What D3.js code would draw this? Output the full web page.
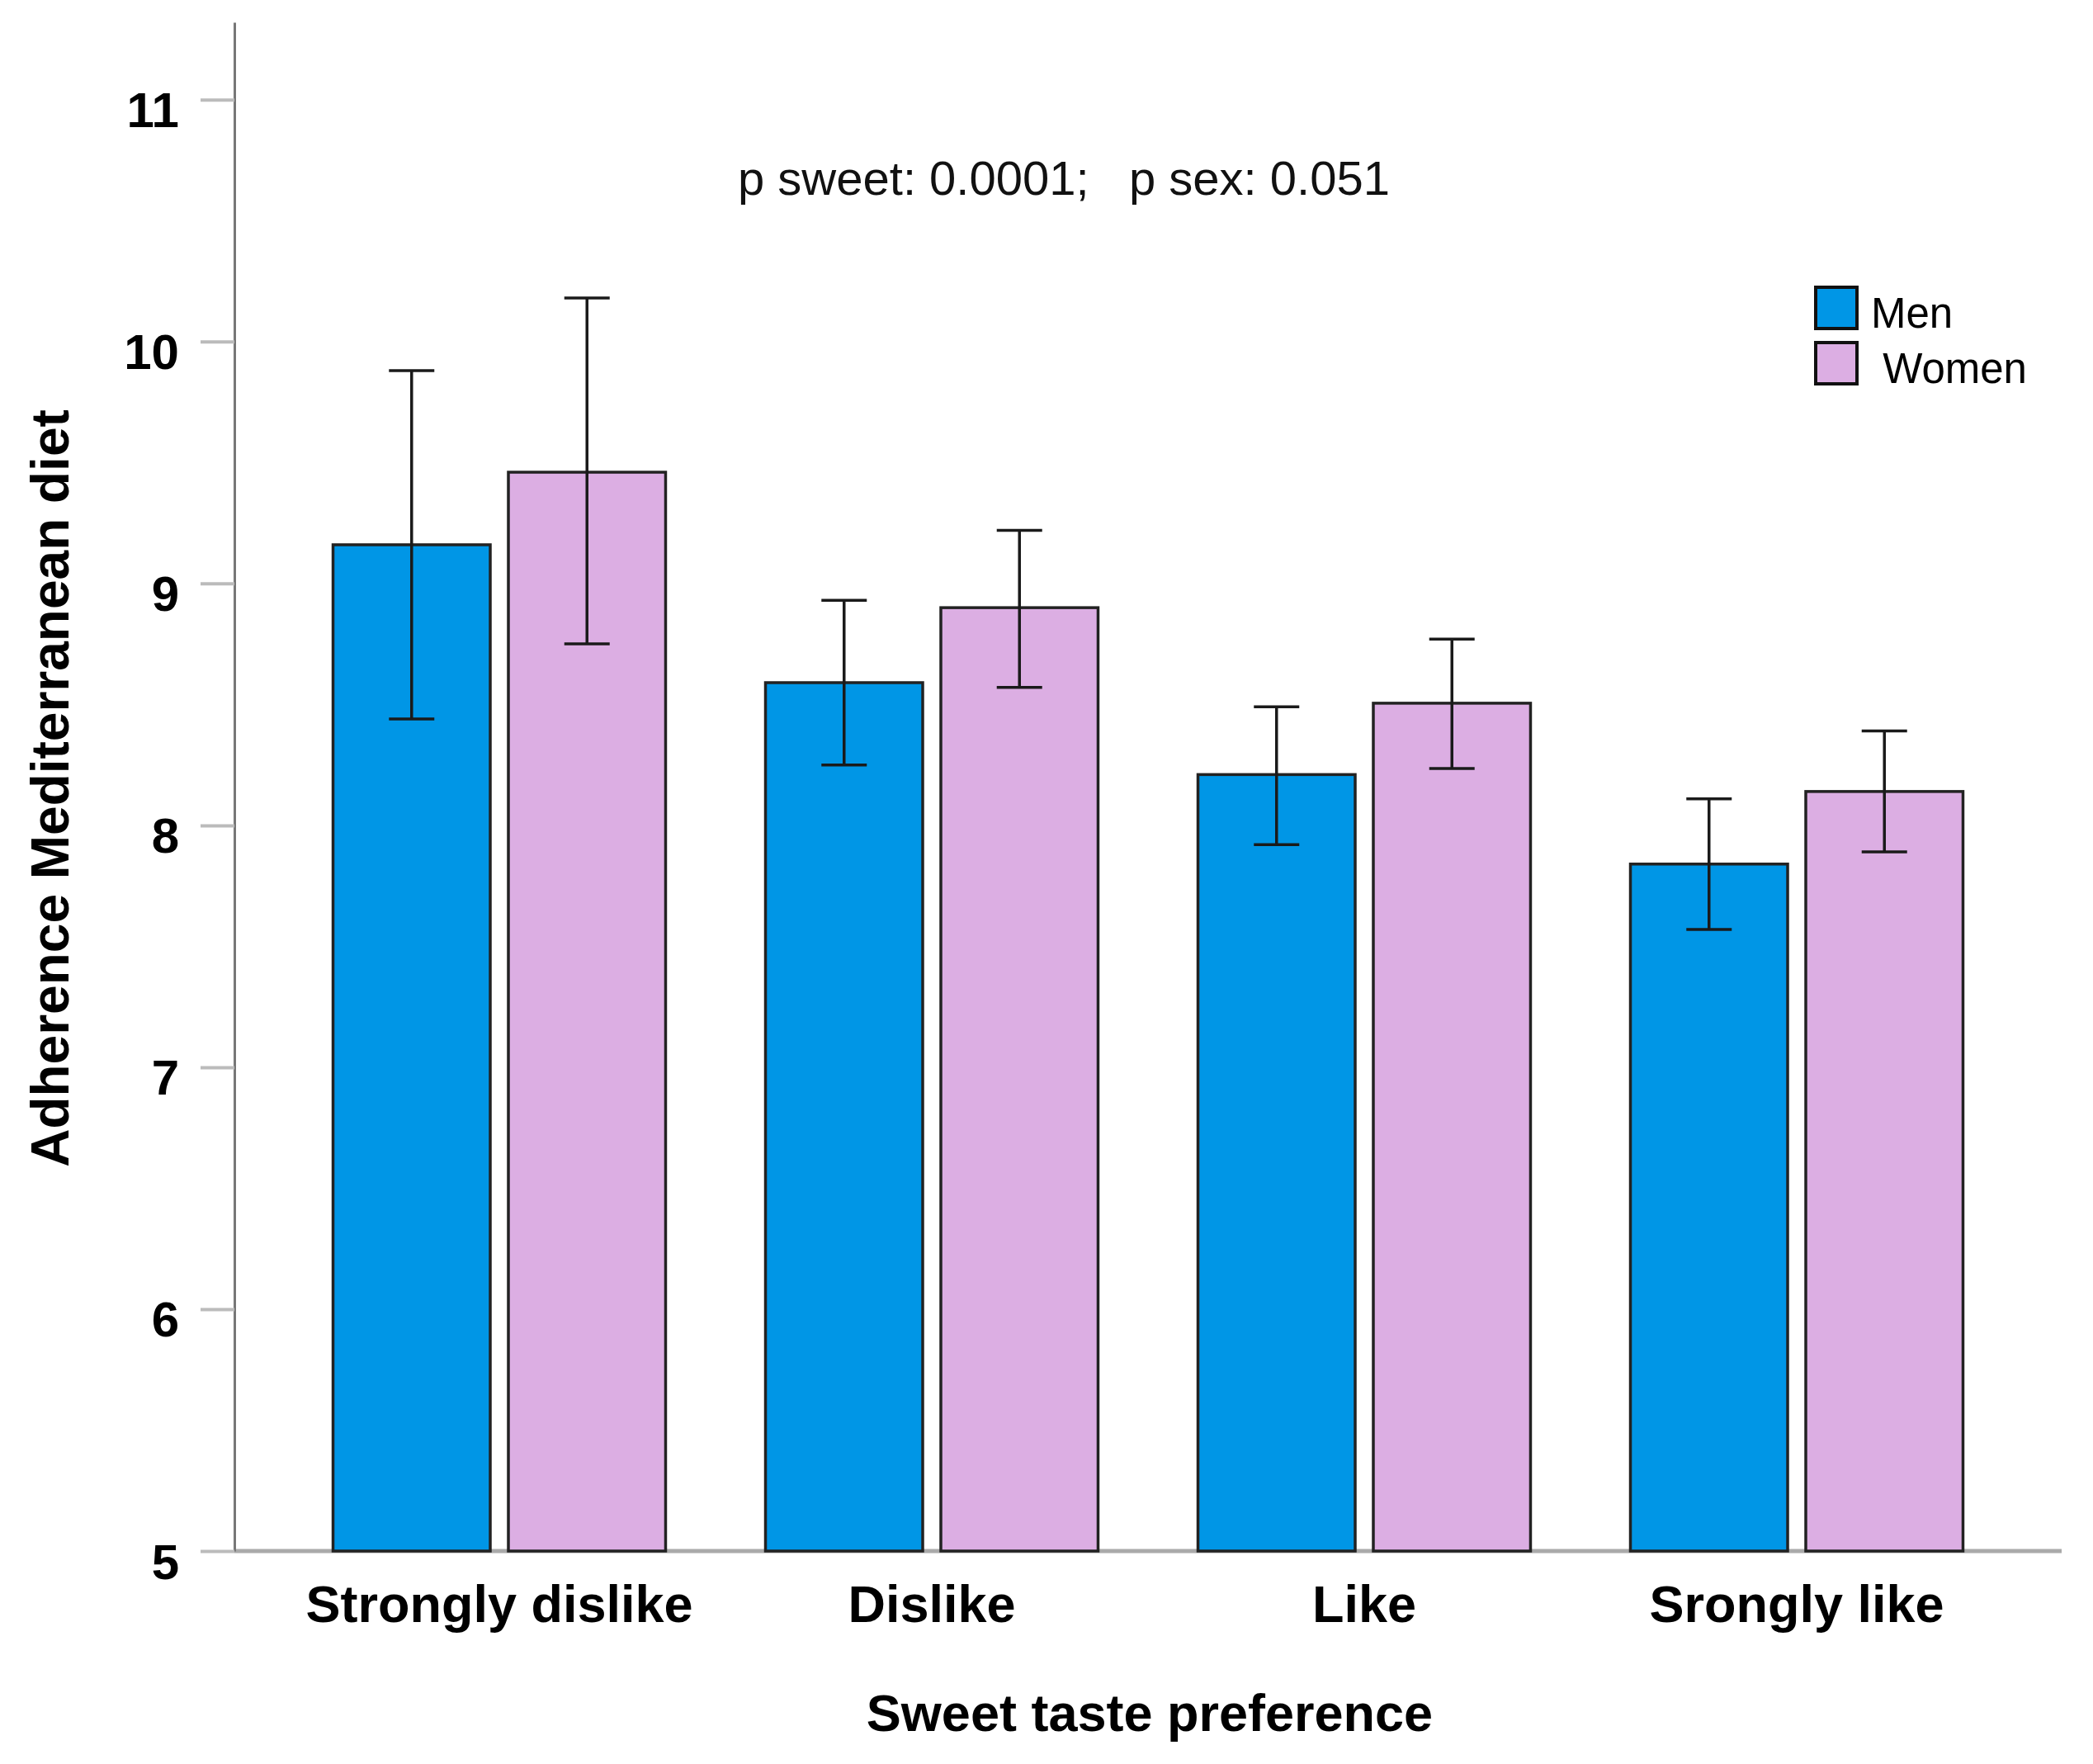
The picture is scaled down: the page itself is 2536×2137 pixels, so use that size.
<!DOCTYPE html>
<html>
<head>
<meta charset="utf-8">
<script src="https://cdn.jsdelivr.net/npm/d3@7"></script>
<style>
  body { margin: 0; background: #fff; }
  svg { display: block; font-family: "Liberation Sans", Arial, sans-serif; }
</style>
</head>
<body>
<svg id="chart" width="2536" height="2137"></svg>
<script>
const categories = ["Strongly dislike", "Dislike", "Like", "Srongly like"];
const sexes = ["Men", "Women"];
const menMeans = [9.16, 8.59, 8.21, 7.84];
const menLower = [8.44, 8.25, 7.92, 7.57];
const menUpper = [9.88, 8.93, 8.49, 8.11];
const womenMeans = [9.46, 8.9, 8.505, 8.14];
const womenLower = [8.75, 8.57, 8.235, 7.89];
const womenUpper = [10.18, 9.22, 8.77, 8.39];
const yTicks = [5, 6, 7, 8, 9, 10, 11];
const legendLabels = ["Men", " Women"];
const annotation = "p sweet: 0.0001;   p sex: 0.051";

const colors = { Men: "#0096e6", Women: "#dcaee3" };

const rows = [];
categories.forEach((c, i) => {
  rows.push({ cat: c, sex: "Men", mean: menMeans[i], lo: menLower[i], hi: menUpper[i] });
  rows.push({ cat: c, sex: "Women", mean: womenMeans[i], lo: womenLower[i], hi: womenUpper[i] });
});

const svg = d3.select("#chart");
const axisLeftX = 284,
  axisRightX = 2498;

const y = d3.scaleLinear().domain([5, 11.32]).range([1879, 27]);
const x0 = d3
  .scaleBand()
  .domain(categories)
  .range([343, 2439])
  .paddingInner(0.231)
  .paddingOuter(0.1155);
const x1 = d3
  .scaleBand()
  .domain(sexes)
  .range([0, x0.bandwidth()])
  .paddingInner(0.1035);

// x baseline
svg
  .append("line")
  .attr("x1", axisLeftX)
  .attr("x2", axisRightX)
  .attr("y1", y(5))
  .attr("y2", y(5))
  .attr("stroke", "#aaa")
  .attr("stroke-width", 5);

// y axis
const gy = svg
  .append("g")
  .attr("transform", `translate(${axisLeftX},0)`)
  .call(
    d3
      .axisLeft(y)
      .tickValues(yTicks)
      .tickFormat(d3.format("d"))
      .tickSize(41)
      .tickSizeOuter(0)
      .tickPadding(26)
  );
gy.select(".domain").attr("stroke", "#777").attr("stroke-width", 3);
gy.selectAll(".tick line").attr("stroke", "#bbb").attr("stroke-width", 4);
gy.selectAll(".tick text")
  .attr("font-family", "Liberation Sans, Arial, sans-serif")
  .attr("font-size", 60)
  .attr("font-weight", "bold")
  .attr("fill", "#000")
  .attr("dy", "0.55em");

// bars
const groups = svg
  .selectAll("g.grp")
  .data(categories)
  .enter()
  .append("g")
  .attr("class", "grp")
  .attr("transform", (d) => `translate(${x0(d)},0)`);

groups
  .selectAll("rect")
  .data((c) => rows.filter((r) => r.cat === c))
  .enter()
  .append("rect")
  .attr("x", (d) => x1(d.sex))
  .attr("y", (d) => y(d.mean))
  .attr("width", x1.bandwidth())
  .attr("height", (d) => y(5) - y(d.mean))
  .attr("fill", (d) => colors[d.sex])
  .attr("stroke", "#222")
  .attr("stroke-width", 3.5);

// error bars
const capW = 55;
const eb = groups
  .selectAll("g.err")
  .data((c) => rows.filter((r) => r.cat === c))
  .enter()
  .append("g")
  .attr("class", "err")
  .attr("stroke", "#1a1a1a")
  .attr("stroke-width", 3.5);
eb.append("line")
  .attr("x1", (d) => x1(d.sex) + x1.bandwidth() / 2)
  .attr("x2", (d) => x1(d.sex) + x1.bandwidth() / 2)
  .attr("y1", (d) => y(d.lo))
  .attr("y2", (d) => y(d.hi));
eb.selectAll("line.cap")
  .data((d) => [
    [d, d.lo],
    [d, d.hi],
  ])
  .enter()
  .append("line")
  .attr("class", "cap")
  .attr("x1", ([d]) => x1(d.sex) + x1.bandwidth() / 2 - capW / 2)
  .attr("x2", ([d]) => x1(d.sex) + x1.bandwidth() / 2 + capW / 2)
  .attr("y1", ([, v]) => y(v))
  .attr("y2", ([, v]) => y(v));

// x labels
const gx = svg
  .append("g")
  .attr("transform", `translate(0,1965)`)
  .call(d3.axisBottom(x0).tickSize(0).tickPadding(0));
gx.select(".domain").remove();
gx.selectAll(".tick text")
  .attr("y", 0)
  .attr("dy", 0)
  .attr("font-family", "Liberation Sans, Arial, sans-serif")
  .attr("font-size", 63)
  .attr("font-weight", "bold")
  .attr("fill", "#000");

// axis titles
svg
  .append("text")
  .attr("x", 1393)
  .attr("y", 2097)
  .attr("text-anchor", "middle")
  .attr("font-size", 63)
  .attr("font-weight", "bold")
  .text("Sweet taste preference");

svg
  .append("text")
  .attr("transform", "translate(83,955) rotate(-90)")
  .attr("text-anchor", "middle")
  .attr("font-size", 64)
  .attr("font-weight", "bold")
  .text("Adherence Mediterranean diet");

// annotation
svg
  .append("text")
  .attr("x", 894)
  .attr("y", 236)
  .attr("font-size", 58)
  .style("white-space", "pre")
  .attr("fill", "#111")
  .text(annotation);

// legend
const lg = svg.append("g").attr("transform", "translate(2200,348)");
const li = lg
  .selectAll("g")
  .data(sexes)
  .enter()
  .append("g")
  .attr("transform", (d, i) => `translate(0,${i * 67})`);
li.append("rect")
  .attr("width", 50)
  .attr("height", 50)
  .attr("fill", (d) => colors[d])
  .attr("stroke", "#111")
  .attr("stroke-width", 4);
li.append("text")
  .attr("x", 67)
  .attr("y", 49)
  .attr("font-size", 51)
  .style("white-space", "pre")
  .text((d, i) => legendLabels[i]);
</script>
</body>
</html>
